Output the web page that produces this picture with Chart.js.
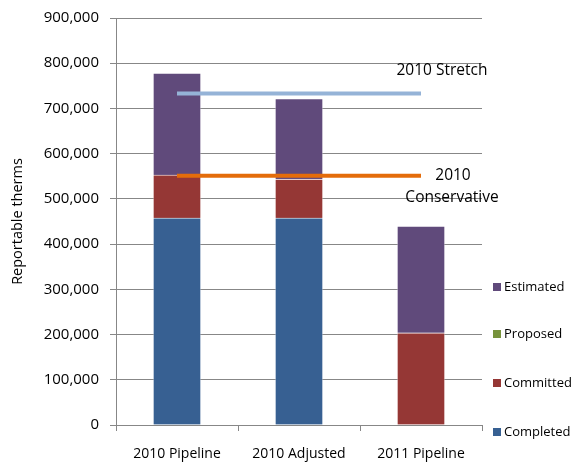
<!DOCTYPE html>
<html lang="en">
<head>
<meta charset="UTF-8">
<title>Reportable therms</title>
<script src="https://cdn.jsdelivr.net/npm/chart.js"></script>
<style>
  body { margin: 0; background: #fff; font-family: "Open Sans", sans-serif; }
  .wrap { position: relative; width: 573px; height: 462px; }
  #legend { position: absolute; left: 493px; top: 0; }
  .item { position: absolute; left: 0; white-space: nowrap; font-size: 13px; line-height: 16px; color: #000; }
  .box { display: inline-block; width: 8px; height: 8px; margin-right: 3px; vertical-align: 0; }
</style>
</head>
<body>
<div class="wrap">
  <canvas id="chart" width="573" height="462"></canvas>
  <div id="legend"></div>
</div>
<script>
const categories = ['2010 Pipeline', '2010 Adjusted', '2011 Pipeline'];
const completed = [458000, 458000, 0];
const committed = [95000, 86000, 204000];
const proposed = [0, 0, 0];
const estimated = [225000, 178000, 236000];
const stretch = [733000, 733000, 733000];
const conservative = [551000, 551000, 551000];

const barColors = {
    Completed: '#376092',
    Committed: '#953735',
    Proposed: '#77933C',
    Estimated: '#604A7B'
};

function bar(label, data) {
    return {
        type: 'bar', label: label, data: data, stack: 'pipeline', order: 1,
        backgroundColor: barColors[label],
        borderColor: 'rgba(255,255,255,0.35)', borderWidth: 1,
        barThickness: 48
    };
}

// etiquettes des deux lignes d'objectif
const lineLabels = {
    id: 'lineLabels',
    afterDatasetsDraw(chart) {
        const ctx = chart.ctx;
        ctx.save();
        ctx.font = '15.5px "Open Sans"';
        ctx.fillStyle = '#000';
        ctx.textAlign = 'center';
        ctx.textBaseline = 'middle';
        const s = chart.getDatasetMeta(4).data[2];
        ctx.fillText('2010 Stretch', s.x + 21, s.y - 23);
        const c = chart.getDatasetMeta(5).data[2];
        ctx.fillText('2010', c.x + 32, c.y);
        ctx.fillText('Conservative', c.x + 31, c.y + 22);
        ctx.restore();
    }
};

function draw() {
    Chart.defaults.font.family = '"Open Sans", sans-serif';
    Chart.defaults.color = '#000';
    const gridColor = '#878787';

    new Chart(document.getElementById('chart'), {
        data: {
            labels: categories,
            datasets: [
                bar('Completed', completed),
                bar('Committed', committed),
                bar('Proposed', proposed),
                bar('Estimated', estimated),
                { type: 'line', label: '2010 Stretch', data: stretch, stack: 's1', order: 0,
                  borderColor: '#95B3D7', borderWidth: 4, pointRadius: 0, fill: false },
                { type: 'line', label: '2010 Conservative', data: conservative, stack: 's2', order: 0,
                  borderColor: '#E46C0A', borderWidth: 4, pointRadius: 0, fill: false }
            ]
        },
        options: {
            responsive: false,
            animation: false,
            layout: { padding: { top: 18, right: 91, left: 0, bottom: 0 } },
            plugins: { legend: { display: false }, tooltip: { enabled: false } },
            scales: {
                x: {
                    stacked: true,
                    offset: true,
                    grid: { offset: true, drawOnChartArea: false, drawTicks: true, tickLength: 6, color: gridColor },
                    border: { color: gridColor },
                    ticks: { font: { size: 14 }, padding: 15 },
                    afterFit(scale) { scale.height = 37; }
                },
                y: {
                    stacked: true,
                    min: 0, max: 900000,
                    grid: { color: gridColor, tickLength: 6 },
                    border: { color: gridColor },
                    ticks: {
                        stepSize: 100000, padding: 11, font: { size: 15 },
                        callback: v => v.toLocaleString('en-US')
                    },
                    title: { display: true, text: 'Reportable therms', font: { size: 14.5 }, padding: { top: 9, bottom: 0 } },
                    afterFit(scale) {
                        scale.width = 116;
                        scale.paddingTop = 0;
                        scale.paddingBottom = 0;
                    }
                }
            }
        },
        plugins: [lineLabels]
    });

    // légende à droite, de haut en bas
    const legendTops = [278, 325, 374, 423];
    const legendNames = ['Estimated', 'Proposed', 'Committed', 'Completed'];
    const legend = document.getElementById('legend');
    legendNames.forEach((name, i) => {
        const el = document.createElement('div');
        el.className = 'item';
        el.style.top = legendTops[i] + 'px';
        el.innerHTML = '<span class="box" style="background:' + barColors[name] + '"></span>' + name;
        legend.appendChild(el);
    });
}

document.fonts.load('15px "Open Sans"').then(draw, draw);
</script>
</body>
</html>
